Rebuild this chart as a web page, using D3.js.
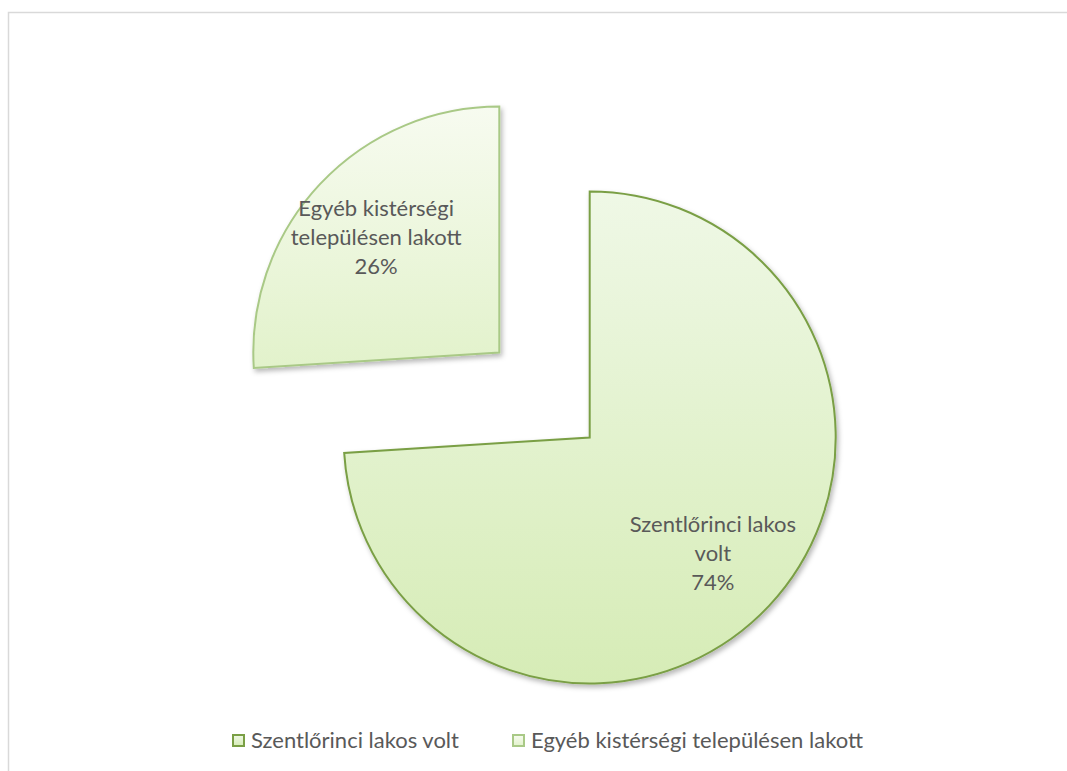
<!DOCTYPE html>
<html>
<head>
<meta charset="utf-8">
<script src="https://cdn.jsdelivr.net/npm/d3@7"></script>
<style>
  body { margin: 0; background: #fff; }
  svg { display: block; font-family: Lato, "Open Sans", sans-serif; }
</style>
</head>
<body>
<div id="chart"></div>
<script>
// Pie data
const categories = ['Szentlőrinci lakos volt', 'Egyéb kistérségi településen lakott'];
const values = [74, 26];
const labelLines = [['Szentlőrinci lakos', 'volt'], ['Egyéb kistérségi', 'településen lakott']];

const width = 1067, height = 771;
const cx = 544.5, cy = 395, r = 246, explode = 62, labelR = 169;

const strokes = ['#7a9f45', '#a9c986'];
const grads = [['#eff8e6', '#d6ecb6'], ['#f7fbf0', '#e2f2cb']];

const svg = d3.select('#chart').append('svg')
  .attr('width', width).attr('height', height);

const defs = svg.append('defs');

const shadow = defs.append('filter').attr('id', 'shadow')
  .attr('x', '-10%').attr('y', '-10%').attr('width', '120%').attr('height', '120%');
shadow.append('feDropShadow')
  .attr('dx', 2).attr('dy', 3).attr('stdDeviation', 2.5)
  .attr('flood-color', '#000').attr('flood-opacity', 0.28);

grads.forEach((g, i) => {
  let lg = defs.append('linearGradient').attr('id', 'grad' + i)
    .attr('x1', 0).attr('y1', 0).attr('x2', 0).attr('y2', 1);
  lg.append('stop').attr('offset', '0%').attr('stop-color', g[0]);
  lg.append('stop').attr('offset', '100%').attr('stop-color', g[1]);
});

// chart frame (only top and left edges visible)
svg.append('path')
  .attr('d', 'M8.5,' + height + 'V12.5H' + width)
  .attr('fill', 'none').attr('stroke', '#d9d9d9').attr('stroke-width', 1.5);

const pie = d3.pie().sort(null).value(d => d);
const arcs = pie(values);
const arc = d3.arc().innerRadius(0).outerRadius(r);
const total = d3.sum(values);

const slices = svg.selectAll('.slice')
  .data(arcs)
  .enter().append('g')
  .attr('class', 'slice')
  .attr('transform', d => {
    let mid = (d.startAngle + d.endAngle) / 2;
    return 'translate(' + (cx + explode * Math.sin(mid)) + ',' + (cy - explode * Math.cos(mid)) + ')';
  });

slices.append('path')
  .attr('d', arc)
  .attr('fill', (d, i) => 'url(#grad' + i + ')')
  .attr('stroke', (d, i) => strokes[i])
  .attr('stroke-width', 2)
  .attr('stroke-linejoin', 'miter')
  .attr('filter', 'url(#shadow)');

slices.each(function (d, i) {
  let mid = (d.startAngle + d.endAngle) / 2;
  let lx = labelR * Math.sin(mid), ly = -labelR * Math.cos(mid);
  let lines = labelLines[i].concat([Math.round(d.value / total * 100) + '%']);
  let t = d3.select(this).append('text')
    .attr('text-anchor', 'middle')
    .attr('fill', '#595959')
    .style('font-size', '22px');
  lines.forEach((s, k) => {
    t.append('tspan')
      .attr('x', lx)
      .attr('y', ly + (k - (lines.length - 1) / 2) * 29 + 8)
      .text(s);
  });
});

// Legend
const legendX = [232, 512], legendY = 740.5;
const legend = svg.selectAll('.legend')
  .data(categories)
  .enter().append('g')
  .attr('class', 'legend')
  .attr('transform', (d, i) => 'translate(' + legendX[i] + ',' + legendY + ')');

legend.append('rect')
  .attr('x', 1).attr('y', -5.5).attr('width', 11).attr('height', 11)
  .attr('fill', (d, i) => 'url(#grad' + i + ')')
  .attr('stroke', (d, i) => strokes[i])
  .attr('stroke-width', 2);

legend.append('text')
  .attr('x', 19).attr('y', 7.5)
  .attr('fill', '#595959')
  .style('font-size', '22px')
  .text(d => d);
</script>
</body>
</html>
